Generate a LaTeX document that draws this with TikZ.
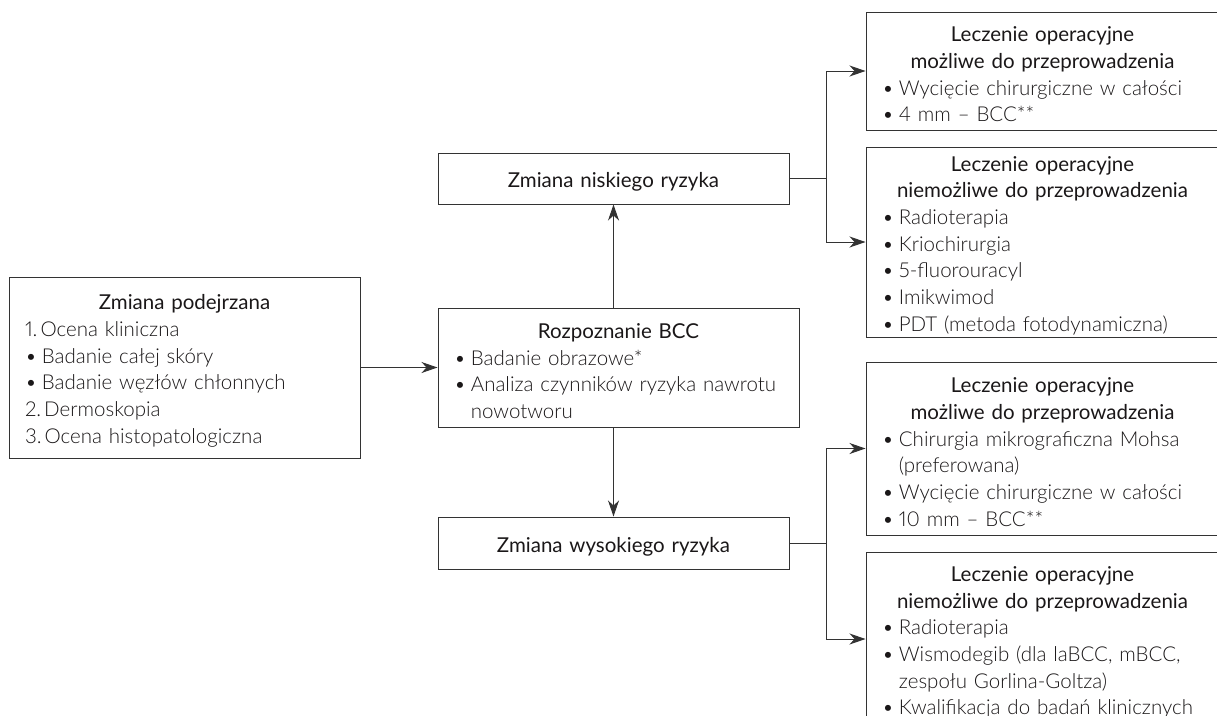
\documentclass[tikz,border=0pt]{standalone}
\usepackage{fontspec}
\setmainfont{Lato}
\newfontfamily\lightfont{Lato Light}[Numbers=Proportional]
\usepackage{tikz}
\usetikzlibrary{arrows.meta,positioning}

\definecolor{lineC}{HTML}{333333}
\definecolor{txtC}{HTML}{1A1718}

\hyphenpenalty=10000
\newcommand{\Ttl}[1]{{\centering\normalfont\rule{0pt}{22pt}#1\par}\lightfont}
\newcommand{\Bl}{\textbullet\hspace{5pt}}
\newcommand{\Hng}{\hphantom{\textbullet\hspace{5pt}}}
\newcommand{\Nr}[1]{#1.\hspace{3pt}}

\begin{document}
\begin{tikzpicture}[x=1pt, y=-1pt]
		\tikzstyle{Box}  = [rectangle, draw=lineC, line width=1pt, text=txtC, align=left,
		                    inner xsep=16pt, inner ysep=0pt,
		                    font=\fontsize{20.5}{26.7}\selectfont]
		\tikzstyle{Line} = [draw=lineC, line width=1pt]
		\tikzstyle{Link} = [Line, -{Stealth[length=16pt, width=11pt, inset=5pt]}]

		\useasboundingbox (0,0) rectangle (1217,715);

		\node (s0) at (184.5, 367.5) [Box, minimum width=351pt, minimum height=181pt, text width=319pt]
			{\Ttl{Zmiana podejrzana}\Nr{1}Ocena kliniczna\\ \Bl Badanie całej skóry\\ \Bl Badanie węzłów chłonnych\\ \Nr{2}Dermoskopia\\ \Nr{3}Ocena histopatologiczna};
		\node (dx) at (618.5, 367.5) [Box, minimum width=361pt, minimum height=119pt, text width=329pt]
			{\Ttl{Rozpoznanie BCC}\Bl Badanie obrazowe*\\ \Bl Analiza czynników ryzyka nawrotu\\ \Hng nowotworu};
		\node (lo) at (613.5, 178.5) [Box, minimum width=351pt, minimum height=51pt, text width=319pt]
			{\Ttl{Zmiana niskiego ryzyka}};
		\node (hi) at (613.5, 543) [Box, minimum width=351pt, minimum height=52pt, text width=319pt]
			{\Ttl{Zmiana wysokiego ryzyka}};

		\node (lo1) at (1042.5, 71) [Box, minimum width=353pt, minimum height=118pt, text width=321pt]
			{\Ttl{Leczenie operacyjne\\ możliwe do przeprowadzenia}\Bl Wycięcie chirurgiczne w całości\\ \Bl 4 mm – BCC**};
		\node (lo2) at (1042.5, 242) [Box, minimum width=353pt, minimum height=190pt, text width=321pt]
			{\Ttl{Leczenie operacyjne\\ niemożliwe do przeprowadzenia}\Bl Radioterapia\\ \Bl Kriochirurgia\\ \Bl 5-fluorouracyl\\ \Bl Imikwimod\\ \Bl PDT (metoda fotodynamiczna)};
		\node (hi1) at (1042.5, 448.5) [Box, minimum width=353pt, minimum height=173pt, text width=321pt]
			{\Ttl{Leczenie operacyjne\\ możliwe do przeprowadzenia}\Bl Chirurgia mikrograficzna Mohsa\\ \Hng (preferowana)\\ \Bl Wycięcie chirurgiczne w całości\\ \Bl 10 mm – BCC**};
		\node (hi2) at (1042.5, 639) [Box, minimum width=353pt, minimum height=174pt, text width=321pt]
			{\Ttl{Leczenie operacyjne\\ niemożliwe do przeprowadzenia}\Bl Radioterapia\\ \Bl Wismodegib (dla laBCC, mBCC,\\ \Hng zespołu Gorlina-Goltza)\\ \Bl Kwalifikacja do badań klinicznych};

		\coordinate (jlo) at (826, 178.5);
		\coordinate (jhi) at (826, 543);

		\draw [Link] (s0) -- (dx);
		\draw [Link] (dx.north -| lo.south) -- (lo.south);
		\draw [Link] (dx.south -| hi.north) -- (hi.north);

		\draw [Line] (lo.east) -- (jlo);
		\draw [Link] (jlo) |- (lo1.west);
		\draw [Link] (jlo) |- (lo2.west);
		\draw [Line] (hi.east) -- (jhi);
		\draw [Link] (jhi) |- (hi1.west);
		\draw [Link] (jhi) |- (hi2.west);
	\end{tikzpicture}
\end{document}
